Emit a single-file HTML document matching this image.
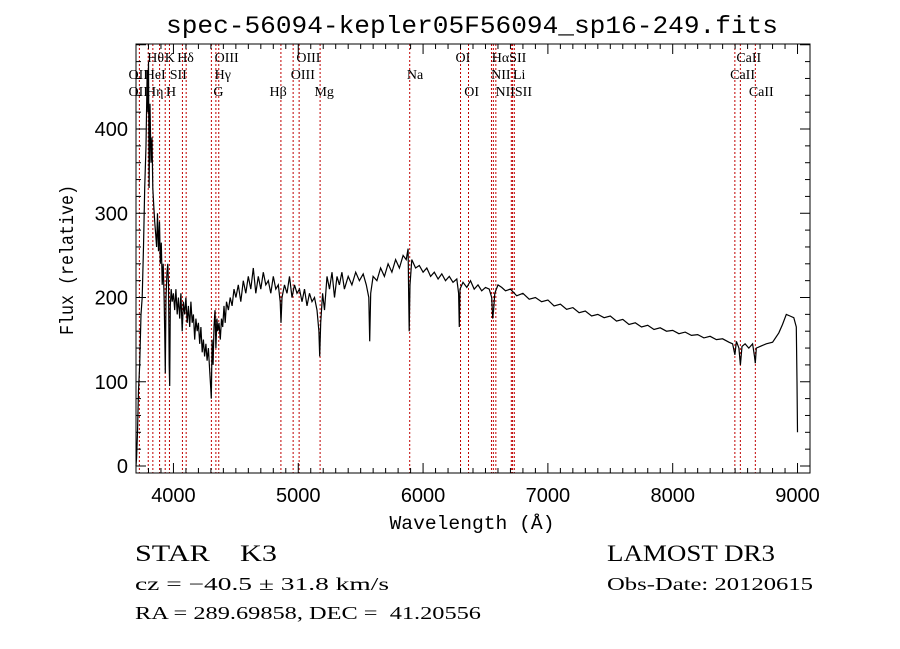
<!DOCTYPE html>
<html><head><meta charset="utf-8"><style>
html,body{margin:0;padding:0;background:#fff;}
svg{display:block;}
text{fill:#000;white-space:pre;}
.t{font-family:"Liberation Sans",sans-serif;}
.s{font-family:"Liberation Serif",serif;}
.m{font-family:"Liberation Mono",monospace;}
</style></head><body>
<svg id="chart" width="900" height="649" viewBox="0 0 900 649" xmlns="http://www.w3.org/2000/svg" xml:space="preserve">
<rect width="900" height="649" fill="#fff"/>
<text class="m" x="472" y="33" font-size="25" text-anchor="middle" textLength="612" lengthAdjust="spacingAndGlyphs">spec-56094-kepler05F56094_sp16-249.fits</text>
<g id="lines"></g>
<g id="labels"></g>
<path id="spec" fill="none" stroke="#000" stroke-width="1.2"/>
<rect x="136" y="44" width="674" height="429" fill="none" stroke="#000" stroke-width="1"/>
<g id="axes"></g>
<text class="m" x="472" y="529" font-size="19" text-anchor="middle" textLength="165" lengthAdjust="spacingAndGlyphs">Wavelength (Å)</text>
<text class="m" x="0" y="0" font-size="19" text-anchor="middle" transform="translate(73,260) rotate(-90)" textLength="150" lengthAdjust="spacingAndGlyphs">Flux (relative)</text>
<text class="s" x="135" y="561" font-size="23" textLength="142" lengthAdjust="spacingAndGlyphs">STAR    K3</text>
<text class="s" x="607" y="561" font-size="23" textLength="168" lengthAdjust="spacingAndGlyphs">LAMOST DR3</text>
<text class="s" x="135" y="590" font-size="18" textLength="254" lengthAdjust="spacingAndGlyphs">cz = −40.5 ± 31.8 km/s</text>
<text class="s" x="607" y="590" font-size="18" textLength="206" lengthAdjust="spacingAndGlyphs">Obs-Date: 20120615</text>
<text class="s" x="135" y="619" font-size="18" textLength="346" lengthAdjust="spacingAndGlyphs">RA = 289.69858, DEC =  41.20556</text>
</svg>
<script>
const wave=[3700,3705,3712,3720,3730,3740,3750,3760,3770,3780,3790,3795,3800,3805,3812,3820,3828,3835,3842,3850,3858,3865,3872,3880,3888,3895,3903,3910,3918,3925,3930,3935,3940,3948,3955,3960,3966,3970,3975,3982,3990,4000,4010,4020,4030,4040,4050,4060,4070,4080,4090,4100,4110,4120,4130,4140,4150,4160,4170,4180,4190,4200,4210,4220,4230,4240,4250,4260,4270,4280,4290,4298,4303,4310,4318,4325,4333,4340,4348,4355,4365,4375,4385,4395,4405,4415,4425,4440,4455,4470,4485,4500,4520,4540,4560,4580,4600,4620,4640,4660,4680,4700,4720,4740,4760,4780,4800,4820,4840,4855,4862,4870,4890,4910,4930,4950,4970,4990,5010,5030,5050,5070,5090,5110,5130,5150,5165,5172,5180,5195,5210,5230,5250,5270,5290,5310,5330,5350,5370,5400,5430,5460,5490,5520,5545,5565,5572,5580,5600,5630,5660,5690,5720,5750,5780,5810,5840,5865,5880,5885,5889,5895,5910,5940,5970,6000,6030,6060,6090,6120,6150,6180,6210,6240,6270,6285,6290,6296,6320,6350,6380,6410,6440,6470,6500,6530,6550,6558,6565,6575,6600,6630,6660,6700,6750,6800,6850,6900,6950,7000,7050,7100,7150,7200,7250,7300,7350,7400,7450,7500,7550,7600,7650,7700,7750,7800,7850,7900,7950,8000,8050,8100,8150,8200,8250,8300,8350,8400,8450,8480,8498,8510,8530,8542,8555,8580,8610,8640,8655,8662,8670,8700,8750,8800,8850,8880,8910,8940,8970,8990,8996,9000];
const flux=[0,10,40,90,120,180,200,260,330,380,470,420,480,330,430,360,390,330,310,290,275,260,300,255,290,240,265,215,240,200,160,110,200,230,240,215,120,95,190,210,195,205,185,210,180,200,175,205,160,195,180,200,170,190,165,195,170,180,150,175,160,170,145,165,135,150,130,145,125,140,115,95,80,150,120,165,185,140,175,160,170,150,175,165,190,170,195,185,200,190,210,200,215,195,220,205,225,210,235,205,225,210,230,215,220,205,225,210,215,195,170,200,215,205,225,200,215,205,210,195,210,190,205,195,200,185,160,130,170,205,185,225,210,230,200,225,215,230,210,225,215,230,220,228,215,200,148,205,225,220,235,225,240,230,245,235,250,245,258,200,160,215,245,235,238,230,235,225,230,222,228,220,225,218,222,205,165,210,218,212,220,210,215,208,212,210,200,175,185,205,215,212,208,210,202,205,198,200,195,197,190,192,186,188,182,184,178,180,176,178,172,174,168,170,165,167,162,164,160,161,157,159,155,156,152,154,150,151,147,145,132,148,140,120,142,145,140,145,130,122,140,142,145,147,158,168,180,178,176,165,100,40];
const lineWaves=[3727,3798,3835,3889,3934,3968,4072,4102,4304,4340,4363,4861,4959,5007,5175,5893,6300,6364,6548,6563,6583,6707,6717,6731,8498,8542,8662];
const labelText=["Hθ","K","Hδ","OIII","OIII","OI","HαSII","CaII","OII","HeI","SII","Hγ","OIII","Na","NII","Li","CaII","OII","Hη","H","G","Hβ","Mg","OI","NIISII","CaII"];
const labelWave=[3790,3930,4030,4330,4985,6260,6550,8510,3640,3770,3970,4330,4940,5870,6545,6720,8460,3640,3780,3940,4320,4770,5130,6330,6580,8610];
const labelRow=[0,0,0,0,0,0,0,0,1,1,1,1,1,1,1,1,1,2,2,2,2,2,2,2,2,2];
const xTicks=[4000,5000,6000,7000,8000,9000];
const yTicks=[0,100,200,300,400];
const X0=3700,X1=9100,Y0=-8.3,Y1=500.9;
const L=136,R=810,T=44,B=473;
const xs=w=>L+(w-X0)/(X1-X0)*(R-L);
const ys=f=>B-(f-Y0)/(Y1-Y0)*(B-T);
const NS="http://www.w3.org/2000/svg";
function mk(tag,attrs,parent){const e=document.createElementNS(NS,tag);for(const k in attrs)e.setAttribute(k,attrs[k]);parent.appendChild(e);return e;}
let d="";
for(let i=0;i<wave.length;i++){d+=(i?"L":"M")+xs(wave[i]).toFixed(1)+" "+ys(flux[i]).toFixed(1);}
document.getElementById('spec').setAttribute('d',d);
const lg=document.getElementById('lines');
lineWaves.forEach(w=>{const e=mk('line',{x1:xs(w),x2:xs(w),y1:T,y2:B,stroke:"#c00000","stroke-width":1,"stroke-dasharray":"2,2"},lg);

});
const lb=document.getElementById('labels');
const rowY=[62,79,96];
labelText.forEach((t,i)=>{const e=mk('text',{x:xs(labelWave[i]),y:rowY[labelRow[i]],"font-size":14,"class":"s"},lb);e.textContent=t;

});
const ax=document.getElementById('axes');
for(let w=3700;w<=9100;w+=100){const big=w%1000===0;
mk('line',{x1:xs(w),x2:xs(w),y1:B,y2:B-(big?10:5),stroke:"#000"},ax);
mk('line',{x1:xs(w),x2:xs(w),y1:T,y2:T+(big?10:5),stroke:"#000"},ax);}
for(let f=0;f<=500;f+=20){const big=f%100===0;
mk('line',{x1:L,x2:L+(big?10:5),y1:ys(f),y2:ys(f),stroke:"#000"},ax);
mk('line',{x1:R,x2:R-(big?10:5),y1:ys(f),y2:ys(f),stroke:"#000"},ax);}
xTicks.forEach(w=>{const e=mk('text',{x:xs(w),y:502,"font-size":20,"text-anchor":"middle","class":"t"},ax);e.textContent=w;

});
yTicks.forEach(f=>{const e=mk('text',{x:128,y:ys(f)+7,"font-size":20,"text-anchor":"end","class":"t"},ax);e.textContent=f;

});
</script>
</body></html>
